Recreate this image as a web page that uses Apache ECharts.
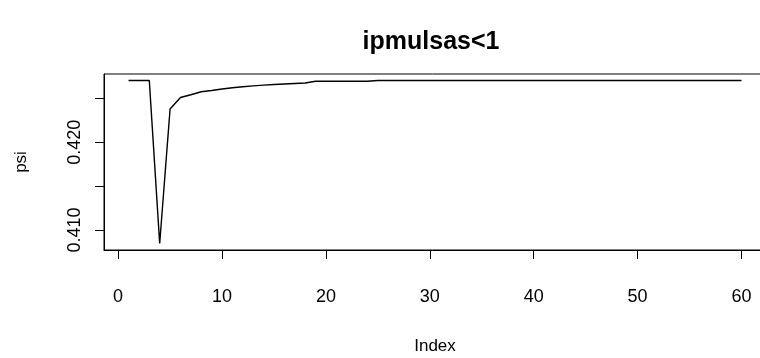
<!DOCTYPE html>
<html>
<head>
<meta charset="utf-8">
<script src="https://cdn.jsdelivr.net/npm/echarts@6/dist/echarts.min.js"></script>
<style>
  html, body { margin: 0; padding: 0; background: #fff; }
  #chart { width: 760px; height: 358px; }
</style>
</head>
<body>
<div id="chart"></div>
<script>
// psi estimate by index
const indexValues = [
  1, 2, 3, 4, 5, 6, 7, 8, 9, 10,
  11, 12, 13, 14, 15, 16, 17, 18, 19, 20,
  21, 22, 23, 24, 25, 26, 27, 28, 29, 30,
  31, 32, 33, 34, 35, 36, 37, 38, 39, 40,
  41, 42, 43, 44, 45, 46, 47, 48, 49, 50,
  51, 52, 53, 54, 55, 56, 57, 58, 59, 60
];
const psiValues = [
  0.42703, 0.42703, 0.42703, 0.40846, 0.42378, 0.42509, 0.42541, 0.42575, 0.42589, 0.42606,
  0.42621, 0.42632, 0.42642, 0.42651, 0.42657, 0.42663, 0.42669, 0.42674, 0.42694, 0.42694,
  0.42694, 0.42694, 0.42694, 0.42694, 0.42703, 0.42703, 0.42703, 0.42703, 0.42703, 0.42703,
  0.42703, 0.42703, 0.42703, 0.42703, 0.42703, 0.42703, 0.42703, 0.42703, 0.42703, 0.42703,
  0.42703, 0.42703, 0.42703, 0.42703, 0.42703, 0.42703, 0.42703, 0.42703, 0.42703, 0.42703,
  0.42703, 0.42703, 0.42703, 0.42703, 0.42703, 0.42703, 0.42703, 0.42703, 0.42703, 0.42703
];
const xTicks = [0, 10, 20, 30, 40, 50, 60];
const yTicks = [0.410, 0.415, 0.420, 0.425];
const yLabels = [0.410, 0.420];

const titleText = 'ipmulsas<1';
const xName = 'Index';
const yName = 'psi';

// R-style 4% padding around the data range
function padRange(vals) {
  const lo = Math.min(...vals), hi = Math.max(...vals);
  const d = (hi - lo) * 0.04;
  return [lo - d, hi + d];
}
const [xMin, xMax] = padRange(indexValues);
const [yMin, yMax] = padRange(psiValues);

const font = 'Liberation Sans, Arial, sans-serif';
const chart = echarts.init(document.getElementById('chart'), null, { renderer: 'canvas' });

const axisLineStyle = { color: '#000', width: 1 };

chart.setOption({
  animation: false,
  backgroundColor: '#ffffff',
  title: {
    text: titleText,
    left: 426,
    top: 25,
    textAlign: 'center',
    textStyle: { fontFamily: font, fontSize: 25, fontWeight: 'bold', color: '#000' }
  },
  grid: {
    left: 104, top: 74, bottom: 108, right: -6,
    outerBoundsMode: 'none',
    containLabel: false,
    show: true, borderColor: '#000', borderWidth: 1, backgroundColor: 'transparent'
  },
  xAxis: {
    type: 'value',
    min: xMin, max: xMax,
    name: xName,
    nameLocation: 'middle',
    nameGap: 88,
    nameTextStyle: { fontFamily: font, fontSize: 17, color: '#000' },
    axisLine: { show: true, onZero: false, lineStyle: axisLineStyle },
    splitLine: { show: false },
    axisTick: { show: true, customValues: xTicks, length: 9, lineStyle: axisLineStyle },
    axisLabel: {
      customValues: xTicks, margin: 47,
      fontFamily: font, fontSize: 18, color: '#000',
      verticalAlign: 'middle',
      formatter: v => String(v)
    }
  },
  yAxis: {
    type: 'value',
    min: yMin, max: yMax,
    name: yName,
    nameLocation: 'middle',
    nameGap: 74,
    nameRotate: 90,
    nameTextStyle: { fontFamily: font, fontSize: 17, color: '#000' },
    axisLine: { show: true, onZero: false, lineStyle: axisLineStyle },
    splitLine: { show: false },
    axisTick: { show: true, customValues: yTicks, length: 9, lineStyle: axisLineStyle },
    axisLabel: {
      customValues: yLabels, rotate: 90, margin: 29,
      fontFamily: font, fontSize: 18, color: '#000',
      align: 'center', verticalAlign: 'middle',
      formatter: v => v.toFixed(3)
    }
  },
  series: [{
    type: 'line',
    data: indexValues.map((x, i) => [x, psiValues[i]]),
    showSymbol: false,
    lineStyle: { color: '#000', width: 1.4 },
    clip: false
  }]
});
</script>
</body>
</html>
